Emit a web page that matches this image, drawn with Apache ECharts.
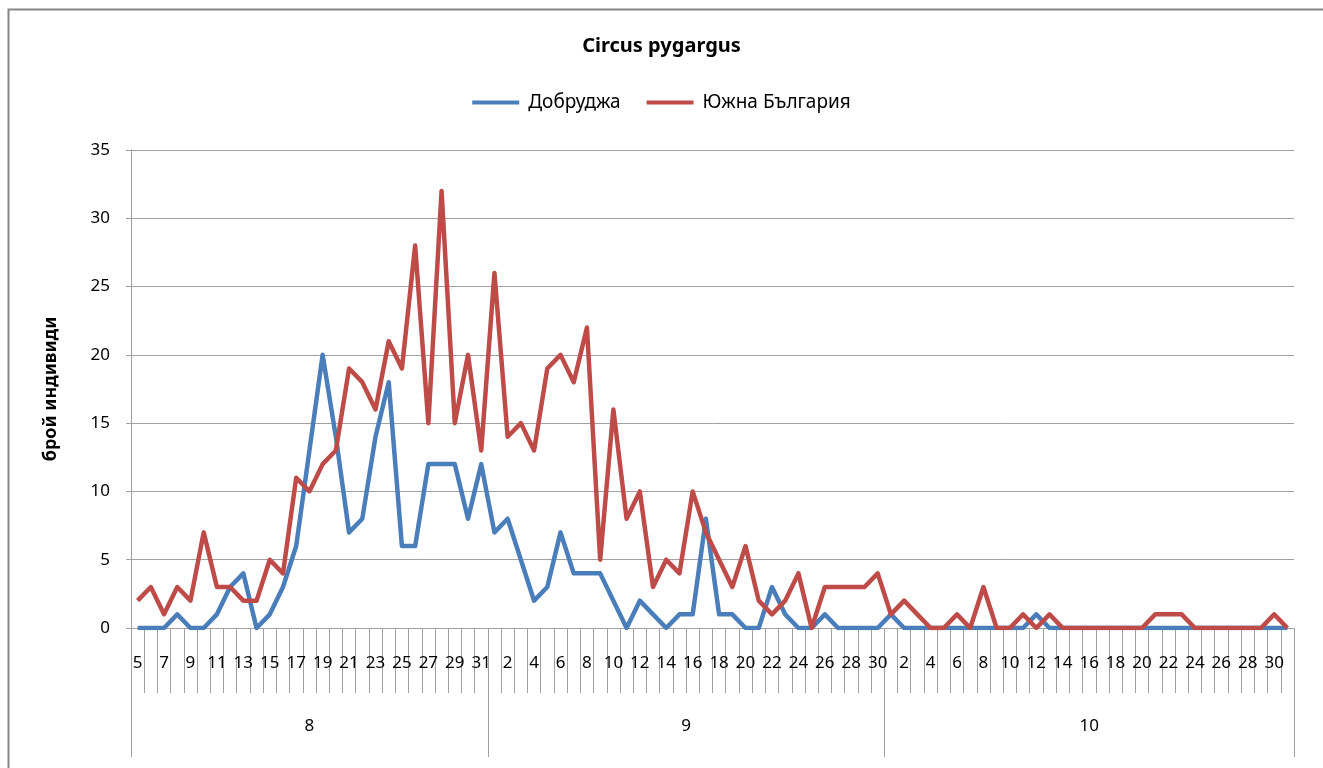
<!DOCTYPE html>
<html>
<head>
<meta charset="utf-8">
<title>Circus pygargus</title>
<script src="https://cdn.jsdelivr.net/npm/echarts@6/dist/echarts.min.js"></script>
<style>
  html, body { margin: 0; padding: 0; background: #fff; }
  #chart { width: 1323px; height: 768px; }
</style>
</head>
<body>
<div id="chart"></div>
<script>
// Days of each month shown on the axis (5 Aug – 31 Oct)
const augDays = [5,6,7,8,9,10,11,12,13,14,15,16,17,18,19,20,21,22,23,24,25,26,27,28,29,30,31];
const sepDays = [1,2,3,4,5,6,7,8,9,10,11,12,13,14,15,16,17,18,19,20,21,22,23,24,25,26,27,28,29,30];
const octDays = [1,2,3,4,5,6,7,8,9,10,11,12,13,14,15,16,17,18,19,20,21,22,23,24,25,26,27,28,29,30,31];
const monthLabels = ['8', '9', '10'];

// Daily counts, Добруджа
const dobrudzhaAug = [0,0,0,1,0,0,1,3,4,0,1,3,6,13,20,14,7,8,14,18,6,6,12,12,12,8,12];
const dobrudzhaSep = [7,8,5,2,3,7,4,4,4,2,0,2,1,0,1,1,8,1,1,0,0,3,1,0,0,1,0,0,0,0];
const dobrudzhaOct = [1,0,0,0,0,0,0,0,0,0,0,1,0,0,0,0,0,0,0,0,0,0,0,0,0,0,0,0,0,0,0];

// Daily counts, Южна България
const southAug = [2,3,1,3,2,7,3,3,2,2,5,4,11,10,12,13,19,18,16,21,19,28,15,32,15,20,13];
const southSep = [26,14,15,13,19,20,18,22,5,16,8,10,3,5,4,10,7,5,3,6,2,1,2,4,0,3,3,3,3,4];
const southOct = [1,2,1,0,0,1,0,3,0,0,1,0,1,0,0,0,0,0,0,0,1,1,1,0,0,0,0,0,0,1,0];

const yTicks = [0, 5, 10, 15, 20, 25, 30, 35];

const months = [augDays, sepDays, octDays];
const categories = [].concat(augDays, sepDays, octDays).map(String);
const dobrudzha = [].concat(dobrudzhaAug, dobrudzhaSep, dobrudzhaOct);
const south = [].concat(southAug, southSep, southOct);

// Month boundaries and centres on a 0..N scale matching the category slots
const bounds = [0];
months.forEach(m => bounds.push(bounds[bounds.length - 1] + m.length));
const centres = months.map((m, k) => (bounds[k] + bounds[k + 1]) / 2);

const FONT = '"Noto Sans", "DejaVu Sans", sans-serif';
const GRAY = '#a0a0a0';

const chart = echarts.init(document.getElementById('chart'), null, { renderer: 'canvas' });

chart.setOption({
  backgroundColor: '#ffffff',
  animation: false,
  textStyle: { fontFamily: FONT, color: '#000' },
  graphic: [{
    type: 'rect',
    left: 6, top: 7,
    shape: { width: 1316, height: 800 },
    style: { fill: 'none', stroke: '#868686', lineWidth: 2 },
    silent: true
  }],
  title: {
    text: 'Circus pygargus',
    left: 'center',
    top: 31,
    textStyle: { fontFamily: FONT, fontSize: 20, fontWeight: 'bold', color: '#000' }
  },
  legend: {
    top: 88,
    left: 'center',
    icon: 'rect',
    itemWidth: 47,
    itemHeight: 4,
    itemGap: 26,
    textStyle: { fontFamily: FONT, fontSize: 19, color: '#000', padding: [0, 0, 0, 4] },
    data: ['Добруджа', 'Южна България']
  },
  grid: { left: 131, right: 29, top: 150, bottom: 140, containLabel: false },
  xAxis: [{
    type: 'category',
    data: categories,
    boundaryGap: true,
    position: 'bottom',
    axisLine: { show: true, lineStyle: { color: GRAY, width: 1 } },
    axisTick: { show: true, interval: 0, length: 65, lineStyle: { color: GRAY, width: 1 } },
    axisLabel: { interval: 1, margin: 27, fontSize: 17, color: '#000', fontFamily: FONT },
    splitLine: { show: false }
  }, {
    type: 'value',
    min: bounds[0],
    max: bounds[bounds.length - 1],
    position: 'bottom',
    offset: 0,
    axisLine: { show: false },
    axisTick: { show: true, customValues: bounds, length: 129, lineStyle: { color: GRAY, width: 1 } },
    axisLabel: {
      customValues: centres,
      margin: 90,
      fontSize: 17,
      color: '#000',
      fontFamily: FONT,
      formatter: v => {
        const k = centres.indexOf(v);
        return k >= 0 ? monthLabels[k] : '';
      }
    },
    splitLine: { show: false }
  }],
  yAxis: {
    type: 'value',
    min: yTicks[0],
    max: yTicks[yTicks.length - 1],
    interval: yTicks[1] - yTicks[0],
    name: 'брой индивиди',
    nameLocation: 'middle',
    nameGap: 71,
    nameRotate: 90,
    nameTextStyle: { fontFamily: FONT, fontSize: 18, fontWeight: 'bold', color: '#000' },
    axisLine: { show: true, lineStyle: { color: GRAY, width: 1 } },
    axisTick: { show: true, length: 5, lineStyle: { color: GRAY } },
    axisLabel: { margin: 21, fontSize: 17, color: '#000', fontFamily: FONT },
    splitLine: { show: true, lineStyle: { color: GRAY, width: 1 } }
  },
  series: [{
    name: 'Добруджа',
    type: 'line',
    data: dobrudzha,
    showSymbol: false,
    symbol: 'none',
    lineStyle: { color: '#4a7ebb', width: 4.5, join: 'round' },
    itemStyle: { color: '#4a7ebb' },
    z: 2
  }, {
    name: 'Южна България',
    type: 'line',
    data: south,
    showSymbol: false,
    symbol: 'none',
    lineStyle: { color: '#be4b48', width: 4.5, join: 'round' },
    itemStyle: { color: '#be4b48' },
    z: 3
  }]
});
</script>
</body>
</html>
